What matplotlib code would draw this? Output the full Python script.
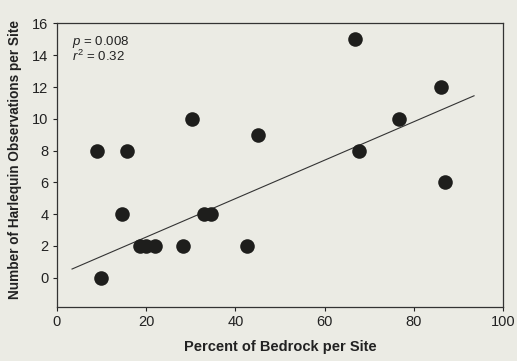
import numpy as np
import matplotlib.pyplot as plt

# Percent of bedrock vs Harlequin observations
bedrock = [9.0, 15.7, 30.3, 45.1, 66.8, 86.1, 76.7, 67.7, 87.0,
           14.5, 10.0, 18.6, 20.0, 22.0, 28.3, 42.6, 33.0, 34.5]
harlequin = [8, 8, 10, 9, 15, 12, 10, 8, 6,
             4, 0, 2, 2, 2, 2, 2, 4, 4]

# regression line ends
fit_x = [3.4, 93.5]
fit_y = [0.55, 11.45]

bg = '#ebebe4'
plt.rcParams['font.family'] = ['Liberation Sans', 'DejaVu Sans']
plt.rcParams['mathtext.fontset'] = 'custom'
plt.rcParams['mathtext.rm'] = 'Liberation Sans'
plt.rcParams['mathtext.it'] = 'Liberation Sans:italic'

fig = plt.figure(figsize=(5.17, 3.61), dpi=100, facecolor=bg)
ax = fig.add_axes([0.110, 0.150, 0.863, 0.785], facecolor=bg)

ax.plot(fit_x, fit_y, color='#333333', lw=0.8, zorder=2)
ax.scatter(bedrock, harlequin, s=110, color='#1e1e1c', zorder=3, linewidths=0)

ax.text(3.3, 14.85, r'$p$ = 0.008', fontsize=9.5, va='center', color='#222222')
ax.text(3.3, 13.95, r'$r^2$ = 0.32', fontsize=9.5, va='center', color='#222222')

ax.set_xlim(0, 100)
ax.set_ylim(-1.83, 16)
ax.set_xticks([0, 20, 40, 60, 80, 100])
ax.set_yticks(np.arange(0, 17, 2))
ax.tick_params(direction='out', length=3, width=0.8, labelsize=10.5,
               colors='#222222', pad=3)
for s in ax.spines.values():
    s.set_linewidth(0.9)
    s.set_color('#333333')

ax.set_xlabel('Percent of Bedrock per Site', fontsize=10.5, fontweight='bold',
              color='#222222', labelpad=8)
ax.set_ylabel('Number of Harlequin Observations per Site', fontsize=9.8,
              fontweight='bold', color='#222222', labelpad=7)
ax.yaxis.set_label_coords(-0.078, 0.52)

fig.savefig('out.png', dpi=100, facecolor=bg)
